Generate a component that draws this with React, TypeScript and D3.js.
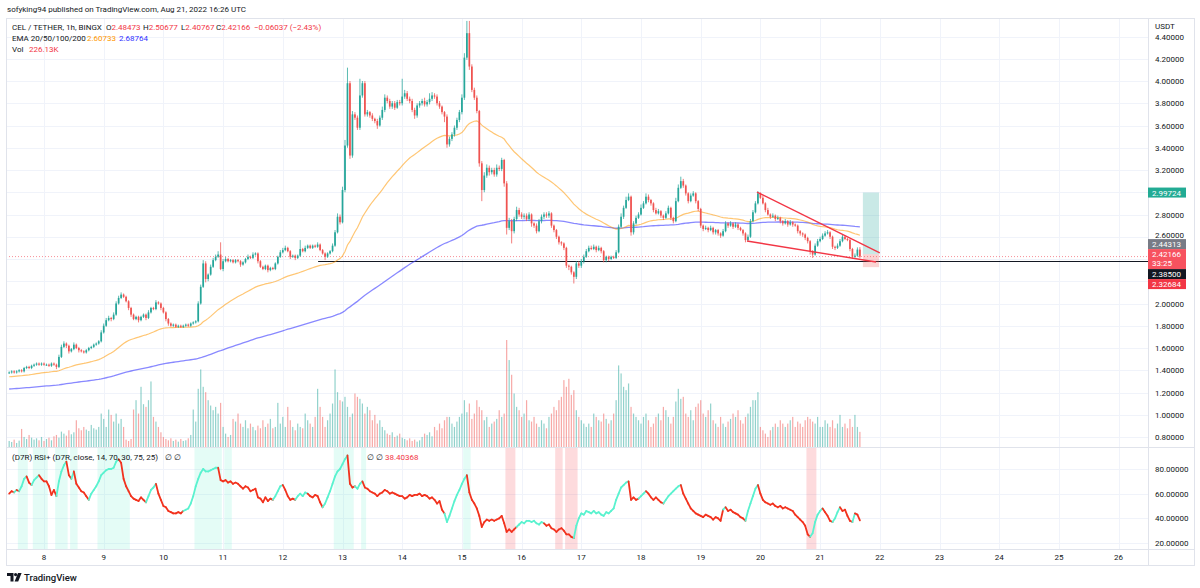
import React from "react";
import * as d3 from "d3";

// CEL/USDT 1h candles on BINGX, Aug 7 10:00 UTC -> Aug 21 16:00 UTC
const firstOpen = 1.38;
const closes = [
  1.38, 1.39, 1.38, 1.39, 1.4, 1.39, 1.42, 1.43, 1.42, 1.44, 1.45, 1.46, 1.45, 1.46, 1.45,
  1.45, 1.44, 1.46, 1.45, 1.43, 1.52, 1.61, 1.64, 1.62, 1.57, 1.59, 1.63, 1.6, 1.58, 1.57, 1.56, 1.58, 1.6, 1.61, 1.63, 1.64, 1.66, 1.74, 1.8,
  1.85, 1.87, 1.86, 1.9, 2.0, 2.05, 2.08, 2.06, 2.02, 1.96, 1.9, 1.86, 1.88, 1.85, 1.88, 1.9, 1.87, 1.92, 1.96, 1.95, 2.01, 2.0, 1.96, 1.92,
  1.86, 1.82, 1.8, 1.81, 1.79, 1.8, 1.79, 1.8, 1.81, 1.8, 1.82, 1.83, 1.84, 2.0, 2.15, 2.36, 2.22, 2.26, 2.33, 2.39, 2.42, 2.44, 2.31, 2.38,
  2.4, 2.38, 2.39, 2.37, 2.39, 2.38, 2.35, 2.37, 2.4, 2.42, 2.41, 2.44, 2.45, 2.38, 2.33, 2.31, 2.34, 2.3, 2.32, 2.31, 2.36, 2.42, 2.46, 2.48,
  2.5, 2.47, 2.42, 2.43, 2.41, 2.43, 2.49, 2.47, 2.5, 2.52, 2.5, 2.52, 2.51, 2.53, 2.48, 2.45, 2.42, 2.45, 2.47, 2.52, 2.64, 2.78, 2.73, 3.02,
  3.42, 3.98, 3.33, 3.7, 3.67, 3.58, 3.87, 3.98, 3.7, 3.72, 3.69, 3.66, 3.64, 3.6, 3.67, 3.74, 3.85, 3.82, 3.77, 3.8, 3.76, 3.81, 3.8, 3.86,
  3.89, 3.84, 3.82, 3.74, 3.69, 3.78, 3.8, 3.82, 3.79, 3.81, 3.84, 3.87, 3.86, 3.8, 3.77, 3.72, 3.68, 3.43, 3.48, 3.52, 3.58, 3.65, 3.72, 3.85,
  4.21, 4.43, 4.13, 3.92, 3.85, 3.73, 3.26, 3.02, 3.15, 3.22, 3.18, 3.2, 3.16, 3.22, 3.21, 3.29, 3.08, 2.68, 2.74, 2.65, 2.76, 2.84, 2.8, 2.78,
  2.79, 2.76, 2.8, 2.72, 2.7, 2.65, 2.74, 2.78, 2.8, 2.79, 2.81, 2.7, 2.66, 2.6, 2.55, 2.54, 2.5, 2.34, 2.33, 2.28, 2.24, 2.36, 2.34, 2.38,
  2.42, 2.47, 2.5, 2.49, 2.51, 2.48, 2.5, 2.47, 2.39, 2.42, 2.4, 2.42, 2.41, 2.46, 2.69, 2.78, 2.86, 2.93, 2.96, 2.64, 2.72, 2.77, 2.8, 2.86,
  2.9, 2.96, 2.93, 2.9, 2.84, 2.81, 2.83, 2.79, 2.77, 2.81, 2.86, 2.77, 2.74, 2.92, 3.04, 3.1, 3.06, 2.99, 2.92, 2.97, 2.99, 2.92, 2.85, 2.7,
  2.67, 2.68, 2.66, 2.68, 2.64, 2.66, 2.63, 2.61, 2.65, 2.72, 2.7, 2.72, 2.69, 2.71, 2.68, 2.66, 2.63, 2.57, 2.6, 2.74, 2.82, 2.9, 2.99, 2.95,
  2.9, 2.84, 2.8, 2.78, 2.79, 2.76, 2.77, 2.74, 2.72, 2.74, 2.71, 2.73, 2.71, 2.7, 2.65, 2.63, 2.62, 2.59, 2.56, 2.47, 2.44, 2.52, 2.56, 2.58,
  2.61, 2.63, 2.64, 2.6, 2.51, 2.5, 2.52, 2.56, 2.6, 2.58, 2.57, 2.49, 2.42, 2.43, 2.48473, 2.42166,
];

// wick lengths beyond the body, in cents
const upperWicks = [
  1, 1, 1, 1, 1, 1, 1, 1, 1, 1, 1, 1, 1, 1, 1,
  1, 1, 1, 1, 1, 2, 2, 2, 1, 1, 1, 2, 1, 1, 1, 1, 1, 1, 1, 1, 1, 1, 2, 2,
  2, 2, 1, 2, 2, 2, 2, 1, 1, 1, 1, 1, 1, 1, 1, 1, 1, 2, 1, 1, 2, 1, 1, 1,
  1, 1, 1, 1, 1, 1, 1, 1, 1, 1, 1, 1, 1, 2, 2, 3, 2, 1, 2, 2, 2, 3, 11, 2,
  2, 1, 1, 1, 1, 1, 1, 1, 1, 2, 1, 2, 1, 1, 1, 1, 1, 1, 1, 1, 1, 1, 2, 2,
  2, 1, 1, 1, 1, 1, 8, 1, 2, 1, 1, 1, 1, 2, 1, 1, 1, 1, 1, 2, 2, 3, 2, 3,
  5, 14, 2, 3, 2, 2, 15, 2, 2, 2, 1, 2, 1, 2, 2, 3, 3, 2, 2, 2, 2, 2, 2, 16,
  3, 2, 2, 2, 2, 2, 2, 2, 3, 2, 5, 3, 2, 2, 2, 1, 1, 2, 2, 2, 2, 2, 2, 3,
  4, 11, 11, 2, 2, 2, 1, 2, 3, 3, 2, 2, 2, 3, 2, 2, 1, 2, 3, 2, 2, 3, 2, 2,
  2, 2, 2, 1, 1, 2, 2, 2, 2, 2, 2, 1, 1, 1, 1, 1, 1, 1, 1, 1, 1, 2, 2, 2,
  2, 2, 2, 2, 2, 1, 2, 1, 1, 1, 1, 1, 1, 2, 2, 3, 2, 3, 3, 1, 2, 2, 2, 3,
  2, 3, 2, 1, 1, 2, 2, 1, 1, 2, 2, 1, 1, 3, 3, 4, 2, 1, 1, 2, 2, 1, 1, 1,
  1, 2, 1, 2, 1, 1, 1, 1, 2, 2, 1, 2, 1, 2, 1, 1, 1, 1, 2, 2, 2, 2, 2, 1,
  2, 1, 2, 1, 2, 1, 2, 1, 1, 2, 1, 2, 1, 1, 1, 1, 1, 1, 1, 1, 1, 2, 2, 2,
  2, 2, 2, 1, 1, 1, 2, 2, 2, 1, 1, 1, 1, 2, 2, 2,
];
const lowerWicks = [
  1, 1, 1, 1, 1, 1, 1, 1, 1, 1, 1, 1, 1, 1, 1,
  1, 1, 1, 1, 2, 1, 1, 1, 2, 2, 1, 1, 1, 2, 1, 1, 1, 1, 1, 1, 1, 1, 1, 1,
  1, 1, 2, 1, 1, 1, 1, 1, 1, 2, 2, 1, 1, 2, 1, 1, 2, 1, 1, 1, 1, 1, 2, 1,
  2, 2, 1, 1, 1, 1, 1, 1, 1, 1, 1, 1, 1, 1, 1, 1, 3, 2, 1, 1, 1, 1, 1, 2,
  1, 1, 1, 1, 1, 1, 2, 1, 1, 1, 1, 1, 1, 2, 1, 1, 1, 2, 1, 1, 1, 1, 1, 1,
  1, 1, 2, 1, 2, 1, 1, 1, 1, 1, 1, 1, 1, 1, 1, 1, 3, 1, 1, 1, 1, 1, 2, 1,
  2, 2, 3, 2, 2, 2, 2, 2, 2, 2, 2, 2, 2, 3, 1, 2, 2, 2, 2, 2, 2, 1, 2, 2,
  2, 2, 2, 2, 3, 2, 2, 2, 2, 2, 2, 2, 2, 2, 2, 2, 5, 3, 2, 2, 2, 2, 2, 2,
  2, 2, 3, 2, 2, 2, 3, 10, 2, 2, 3, 2, 2, 2, 2, 2, 3, 6, 2, 11, 2, 2, 2, 2,
  2, 2, 2, 3, 2, 2, 1, 2, 2, 2, 2, 2, 2, 2, 2, 2, 2, 2, 3, 2, 6, 2, 2, 2,
  2, 1, 1, 1, 1, 2, 1, 2, 2, 2, 2, 1, 1, 1, 1, 1, 2, 1, 1, 3, 2, 1, 1, 1,
  1, 1, 2, 2, 2, 1, 1, 2, 2, 1, 1, 2, 2, 1, 1, 1, 2, 2, 2, 1, 1, 2, 2, 2,
  2, 1, 2, 1, 2, 2, 2, 2, 1, 1, 2, 1, 2, 1, 2, 1, 2, 2, 1, 1, 1, 1, 1, 1,
  1, 2, 1, 2, 1, 2, 1, 2, 2, 1, 2, 1, 2, 1, 2, 2, 2, 2, 2, 3, 3, 1, 1, 1,
  1, 1, 1, 2, 2, 2, 1, 1, 1, 1, 1, 2, 2, 1, 1, 1,
];
const lastBar = { open: 2.48473, high: 2.50677, low: 2.40767, close: 2.42166, change: -0.06037, changePct: -2.43 };
const emaLegend = ["2.60733", "2.68764"];

// volume per hour, thousands of CEL
const volumesK = [
  90, 75, 110, 60, 95, 270, 150, 120, 180, 140, 110, 130, 100, 150, 90,
  120, 140, 100, 160, 180, 140, 230, 200, 170, 250, 190, 220, 400, 280, 250, 300, 260, 240, 330, 280, 260, 300, 500, 420,
  300, 560, 480, 380, 500, 350, 420, 300, 110, 90, 120, 560, 700, 500, 900, 640, 600, 700, 980, 450, 380, 300, 220, 150,
  120, 100, 130, 90, 110, 80, 120, 90, 100, 130, 180, 560, 380, 870, 1160, 900, 820, 700, 620, 550, 600, 500, 660, 300,
  200, 150, 180, 420, 380, 500, 350, 300, 400, 280, 350, 300, 250, 320, 280, 400, 300, 350, 420, 280, 300, 660, 350, 450,
  300, 600, 400, 300, 250, 350, 300, 280, 500, 400, 350, 300, 450, 870, 600, 450, 300, 400, 500, 650, 1160, 820, 700, 680,
  750, 600, 450, 500, 800, 750, 720, 650, 500, 600, 550, 400, 480, 350, 400, 300, 250, 200, 180, 220, 150, 170, 200, 140,
  120, 100, 130, 90, 110, 80, 100, 150, 200, 180, 220, 160, 300, 250, 350, 280, 400, 450, 450, 350, 300, 380, 450, 500,
  700, 520, 650, 420, 500, 700, 600, 550, 400, 450, 300, 350, 380, 420, 550, 450, 500, 1600, 1300, 1080, 800, 600, 550, 450,
  500, 700, 400, 380, 450, 350, 300, 400, 350, 280, 450, 500, 600, 550, 700, 750, 1000, 900, 1020, 780, 850, 550, 450, 400,
  350, 300, 350, 300, 500, 450, 400, 380, 500, 420, 350, 400, 500, 700, 1220, 1100, 900, 850, 950, 600, 500, 450, 400, 350,
  450, 500, 400, 300, 350, 450, 500, 400, 600, 550, 450, 350, 450, 680, 870, 720, 750, 500, 450, 550, 400, 600, 650, 700,
  500, 450, 550, 650, 400, 350, 300, 450, 350, 300, 380, 420, 500, 450, 550, 400, 350, 450, 500, 600, 700, 700, 820, 300,
  250, 200, 150, 250, 300, 350, 300, 400, 350, 300, 350, 400, 450, 300, 380, 350, 300, 400, 450, 420, 380, 350, 450, 300,
  300, 400, 350, 300, 400, 280, 350, 480, 300, 350, 280, 420, 300, 480, 300, 226.13,
];

// (D7R) RSI+ 14 readings per hour
const rsiValues = [
  60, 62, 61, 63, 62, 66, 72, 74, 69, 67, 71, 73, 75, 72, 70,
  70, 66, 59, 63, 58, 70, 78, 83, 86, 75, 72, 78, 68, 65, 62, 61, 58, 55, 60, 63, 66, 70, 75, 77,
  79, 80, 80, 81, 86, 88, 85, 72, 66, 62, 58, 56, 55, 54, 57, 55, 53, 58, 63, 65, 68, 60, 55, 50,
  49, 46, 45, 44, 44, 45, 44, 46, 47, 48, 52, 58, 66, 72, 77, 80, 78, 78, 79, 80, 81, 81, 71, 70,
  71, 69, 70, 68, 69, 68, 66, 64, 66, 65, 62, 63, 64, 57, 56, 53, 57, 54, 56, 55, 58, 62, 66, 67,
  63, 58, 55, 56, 55, 58, 60, 58, 61, 60, 58, 57, 59, 58, 53, 49, 52, 57, 62, 68, 74, 78, 80, 84,
  88, 91, 68, 65, 66, 64, 68, 70, 65, 64, 62, 61, 60, 58, 60, 61, 63, 62, 60, 61, 60, 59, 58, 58,
  56, 57, 59, 58, 59, 59, 60, 58, 59, 58, 56, 57, 55, 52, 54, 47, 44, 37, 42, 48, 54, 59, 63, 68,
  72, 75, 61, 55, 52, 48, 42, 33, 37, 39, 38, 39, 38, 39, 40, 42, 36, 29, 31, 29, 31, 33, 35, 37,
  36, 38, 38, 37, 38, 36, 35, 37, 36, 34, 35, 32, 31, 29, 31, 32, 30, 27, 27, 25, 24, 34, 40, 44,
  43, 46, 45, 44, 46, 44, 45, 43, 42, 45, 44, 46, 48, 55, 60, 65, 67, 69, 70, 55, 57, 55, 56, 58,
  60, 62, 60, 57, 55, 57, 55, 53, 52, 55, 58, 60, 62, 64, 66, 67, 60, 56, 52, 48, 46, 44, 43, 42,
  41, 43, 42, 41, 39, 41, 40, 38, 47, 49, 46, 47, 45, 44, 43, 41, 40, 38, 46, 52, 58, 64, 67, 60,
  55, 53, 52, 51, 52, 50, 49, 50, 48, 49, 48, 47, 46, 43, 41, 39, 37, 34, 27, 25, 28, 37, 43, 46,
  48, 45, 42, 38, 37, 40, 45, 49, 46, 47, 42, 38, 37, 44, 43, 38.40368,
];
// bar-index runs where the RSI line is painted in its rising colour
const rsiRisingRuns = [
  [2, 3], [4, 7], [9, 12], [19, 23], [25, 26], [32, 44], [55, 59], [70, 84], [106, 110], [115, 120],
  [126, 136], [139, 142], [175, 184], [204, 215], [227, 249], [253, 256], [263, 270], [287, 288],
  [296, 301], [322, 327], [331, 334], [339, 340],
];
const overboughtBands = [
  [4, 7], [10, 11], [12, 15], [19, 23], [25, 27], [36, 48], [75, 85], [87, 89], [131, 138], [142, 143], [183, 185],
];
const oversoldBands = [[200, 203], [220, 222], [224, 228], [321, 324]];

const priceTicks = [0.8, 1.0, 1.2, 1.4, 1.6, 1.8, 2.0, 2.2, 2.4, 2.6, 2.8, 3.0, 3.2, 3.4, 3.6, 3.8, 4.0, 4.2, 4.4];
const rsiTicks = [20, 40, 60, 80];

// drawings: falling wedge, support level and a long position
const wedgeLines = [
  { from: [300.6, 3.002], to: [350.0, 2.454] },
  { from: [296.6, 2.562], to: [348.5, 2.373] },
];
const supportLine = { price: 2.385, fromBar: 124.2 };
const longPosition = { entry: 2.44313, target: 2.99724, stop: 2.32684, fromBar: 343.2, toBar: 349.7 };

const axisLabels = [
  { value: 2.99724, text: "2.99724", fill: "#22ab94" },
  { value: 2.44313, text: "2.44313", fill: "#787b86" },
  { value: 2.42166, text: "2.42166", sub: "33:25", fill: "#f7525f", anchor: true },
  { value: 2.385, text: "2.38500", fill: "#131722" },
  { value: 2.32684, text: "2.32684", fill: "#f23645" },
];

const UP = "#26a69a";
const DOWN = "#ef5350";
const RED_TEXT = "#f23645";
const FONT = "Roboto, 'Noto Sans', sans-serif";

const LEFT = 6;
const AXIS_X = 1148;
const RIGHT = 1194;
const MAIN_TOP = 18;
const MAIN_BOTTOM = 447;
const RSI_BOTTOM = 549;
const TIME_BOTTOM = 565;
const HOUR = 3600e3;
const t0 = Date.UTC(2022, 7, 7, 10);

function ema(values: number[], period: number, seed: number) {
  const k = 2 / (period + 1);
  let prev = seed;
  return values.map((v) => (prev = prev + k * (v - prev)));
}

export default function App() {
  const xTime = d3
    .scaleUtc()
    .domain([new Date(Date.UTC(2022, 7, 8)), new Date(Date.UTC(2022, 7, 26))])
    .range([44, 44 + 18 * 59.7]);
  const x = (i: number) => xTime(new Date(t0 + i * HOUR));
  const y = d3.scaleLinear().domain([0.8, 4.4]).range([437, 36.5]);
  const yVol = d3.scaleLinear().domain([0, d3.max(volumesK) as number]).range([MAIN_BOTTOM, 340]);
  const yRsi = d3.scaleLinear().domain([20, 80]).range([543, 469]);
  const step = x(1) - x(0);

  const candles = closes.map((c, i) => {
    const o = i === 0 ? firstOpen : closes[i - 1];
    const last = i === closes.length - 1;
    return {
      o,
      c,
      h: last ? lastBar.high : Math.max(o, c) + (upperWicks[i] ?? 1) / 100,
      l: last ? lastBar.low : Math.min(o, c) - (lowerWicks[i] ?? 1) / 100,
    };
  });

  const ema50 = ema(closes, 50, 1.34);
  const ema200 = ema(closes, 200, 1.23);
  const line = d3
    .line<number>()
    .x((_, i) => x(i))
    .y((d) => y(d));

  const isRising = (i: number) => rsiRisingRuns.some(([a, b]) => i >= a && i < b);

  // stack the price-axis badges around the live price badge
  const boxes = axisLabels.map((l) => {
    const cy = y(l.value);
    return l.anchor ? { ...l, top: cy - 7.5, bottom: cy + 12.5 } : { ...l, top: cy - 5, bottom: cy + 5 };
  });
  const anchor = boxes.find((b) => b.anchor)!;
  let edge = anchor.top;
  boxes
    .filter((b) => b.value > anchor.value)
    .sort((a, b) => a.value - b.value)
    .forEach((b) => {
      if (b.bottom > edge) {
        b.top -= b.bottom - edge;
        b.bottom = edge;
      }
      edge = b.top;
    });
  edge = anchor.bottom;
  boxes
    .filter((b) => b.value < anchor.value)
    .sort((a, b) => b.value - a.value)
    .forEach((b) => {
      if (b.top < edge) {
        b.bottom += edge - b.top;
        b.top = edge;
      }
      edge = b.bottom;
    });

  // tick labels hidden under a badge are dropped, ones just touching a badge are nudged clear
  const tickLabels = priceTicks
    .map((t) => ({ t, ty: y(t) }))
    .filter(({ ty }) => !boxes.some((b) => ty > b.top && ty < b.bottom))
    .map(({ t, ty }) => {
      let baseline = ty + 3;
      boxes.forEach((b) => {
        if (baseline > b.top - 1 && ty < b.top) baseline = b.top - 1;
      });
      return { t, baseline };
    });

  const days = d3.utcDay.range(new Date(Date.UTC(2022, 7, 8)), new Date(Date.UTC(2022, 7, 27)));

  return (
    <svg
      width={1200}
      height={588}
      style={{ position: "absolute", left: 0, top: 0, background: "#fff", fontFamily: FONT }}
    >
      <defs>
        <clipPath id="main">
          <rect x={LEFT} y={MAIN_TOP} width={AXIS_X - LEFT} height={MAIN_BOTTOM - MAIN_TOP} />
        </clipPath>
        <clipPath id="rsi">
          <rect x={LEFT} y={MAIN_BOTTOM} width={AXIS_X - LEFT} height={RSI_BOTTOM - MAIN_BOTTOM} />
        </clipPath>
      </defs>

      <text x={7} y={12} fontSize={8} fill="#131722">
        sofyking94 published on TradingView.com, Aug 21, 2022 16:26 UTC
      </text>

      {/* grid */}
      <g stroke="#f0f3fa" strokeWidth={1}>
        {priceTicks.map((t) => (
          <line key={t} x1={LEFT} x2={AXIS_X} y1={Math.round(y(t)) + 0.5} y2={Math.round(y(t)) + 0.5} />
        ))}
        {rsiTicks.map((t) => (
          <line key={t} x1={LEFT} x2={AXIS_X} y1={Math.round(yRsi(t)) + 0.5} y2={Math.round(yRsi(t)) + 0.5} />
        ))}
        {days.map((d) => (
          <line
            key={+d}
            x1={Math.round(xTime(d)) + 0.5}
            x2={Math.round(xTime(d)) + 0.5}
            y1={MAIN_TOP}
            y2={RSI_BOTTOM}
          />
        ))}
      </g>

      {/* price pane */}
      <g clipPath="url(#main)">
        {volumesK.map((v, i) => (
          <rect
            key={i}
            x={x(i) - 0.6}
            width={1.2}
            y={yVol(v)}
            height={MAIN_BOTTOM - yVol(v)}
            fill={candles[i].c >= candles[i].o ? UP : DOWN}
            opacity={0.5}
          />
        ))}

        <line
          x1={LEFT}
          x2={AXIS_X}
          y1={y(lastBar.close)}
          y2={y(lastBar.close)}
          stroke={RED_TEXT}
          strokeOpacity={0.55}
          strokeDasharray="1 2"
        />
        <line
          x1={x(supportLine.fromBar)}
          x2={AXIS_X}
          y1={Math.round(y(supportLine.price)) + 0.5}
          y2={Math.round(y(supportLine.price)) + 0.5}
          stroke="#131722"
          strokeWidth={1}
        />

        <path d={line(ema200) ?? ""} fill="none" stroke="#3b3bff" strokeOpacity={0.6} strokeWidth={1.3} />
        <path d={line(ema50) ?? ""} fill="none" stroke="#ff9800" strokeOpacity={0.55} strokeWidth={1.2} />

        {candles.map((c, i) => {
          const cx = x(i);
          const color = c.c >= c.o ? UP : DOWN;
          const top = y(Math.max(c.o, c.c));
          const bot = y(Math.min(c.o, c.c));
          return (
            <g key={i} fill={color}>
              <rect x={cx - 0.5} width={1} y={y(c.h)} height={y(c.l) - y(c.h)} opacity={0.75} />
              <rect x={cx - 0.85} width={1.7} y={top} height={Math.max(1, bot - top)} />
            </g>
          );
        })}

        <rect
          x={x(longPosition.fromBar)}
          width={x(longPosition.toBar) - x(longPosition.fromBar)}
          y={y(longPosition.target)}
          height={y(longPosition.entry) - y(longPosition.target)}
          fill={UP}
          opacity={0.25}
        />
        <rect
          x={x(longPosition.fromBar)}
          width={x(longPosition.toBar) - x(longPosition.fromBar)}
          y={y(longPosition.entry)}
          height={y(longPosition.stop) - y(longPosition.entry)}
          fill={DOWN}
          opacity={0.25}
        />

        {wedgeLines.map((w, k) => (
          <line
            key={k}
            x1={x(w.from[0])}
            y1={y(w.from[1])}
            x2={x(w.to[0])}
            y2={y(w.to[1])}
            stroke="#f23645"
            strokeWidth={1.4}
          />
        ))}
      </g>

      {/* legend */}
      <g fontSize={8} fill="#131722">
        <text x={12} y={30}>CEL / TETHER, 1h, BINGX</text>
        <text x={106} y={30}>O<tspan fill={RED_TEXT}>{lastBar.open.toFixed(5)}</tspan></text>
        <text x={143} y={30}>H<tspan fill={RED_TEXT}>{lastBar.high.toFixed(5)}</tspan></text>
        <text x={181} y={30}>L<tspan fill={RED_TEXT}>{lastBar.low.toFixed(5)}</tspan></text>
        <text x={216} y={30}>C<tspan fill={RED_TEXT}>{lastBar.close.toFixed(5)}</tspan></text>
        <text x={254} y={30} fill={RED_TEXT}>
          {`\u2212${Math.abs(lastBar.change).toFixed(5)} (\u2212${Math.abs(lastBar.changePct).toFixed(2)}%)`}
        </text>
        <text x={12} y={41}>EMA 20/50/100/200</text>
        <text x={87} y={41} fill="#ff9800">{emaLegend[0]}</text>
        <text x={119} y={41} fill="#3030ff">{emaLegend[1]}</text>
        <text x={12} y={52}>Vol</text>
        <text x={29} y={52} fill={RED_TEXT}>226.13K</text>
      </g>

      {/* RSI pane */}
      <g clipPath="url(#rsi)">
        {overboughtBands.map(([a, b], k) => (
          <rect
            key={"ob" + k}
            x={x(a) - step / 2}
            width={x(b) - x(a) + step}
            y={MAIN_BOTTOM}
            height={RSI_BOTTOM - MAIN_BOTTOM}
            fill="#5ef0cc"
            opacity={0.17}
          />
        ))}
        {oversoldBands.map(([a, b], k) => (
          <rect
            key={"os" + k}
            x={x(a) - step / 2}
            width={x(b) - x(a) + step}
            y={MAIN_BOTTOM}
            height={RSI_BOTTOM - MAIN_BOTTOM}
            fill="#f23645"
            opacity={0.18}
          />
        ))}
        {rsiValues.slice(1).map((v, k) => (
          <line
            key={k}
            x1={x(k)}
            y1={yRsi(rsiValues[k])}
            x2={x(k + 1)}
            y2={yRsi(v)}
            stroke={isRising(k) ? "#5af2cf" : "#f2321e"}
            strokeWidth={1.8}
            strokeLinecap="round"
          />
        ))}
      </g>
      <g fontSize={8} fill="#131722">
        <text x={12} y={460}>(D7R) RSI+ (D7R, close, 14, 70, 30, 75, 25)</text>
        <text x={165} y={460}>∅  ∅</text>
        <text x={367} y={460}>∅  ∅</text>
        <text x={385} y={460} fill={RED_TEXT}>
          {rsiValues[rsiValues.length - 1].toFixed(5)}
        </text>
      </g>

      {/* frame */}
      <g stroke="#e0e3eb" fill="none">
        <rect x={LEFT + 0.5} y={MAIN_TOP + 0.5} width={RIGHT - LEFT} height={TIME_BOTTOM - MAIN_TOP} />
        <line x1={AXIS_X + 0.5} x2={AXIS_X + 0.5} y1={MAIN_TOP} y2={TIME_BOTTOM} />
        <line x1={LEFT} x2={RIGHT} y1={MAIN_BOTTOM + 0.5} y2={MAIN_BOTTOM + 0.5} />
        <line x1={LEFT} x2={RIGHT} y1={RSI_BOTTOM + 0.5} y2={RSI_BOTTOM + 0.5} />
      </g>

      {/* price axis */}
      <g fontSize={8} fill="#131722">
        <text x={1155} y={29}>USDT</text>
        {tickLabels.map(({ t, baseline }) => (
          <text key={t} x={1155} y={baseline}>
            {t.toFixed(5)}
          </text>
        ))}
        {rsiTicks.map((t) => (
          <text key={t} x={1155} y={yRsi(t) + 3}>
            {t.toFixed(5)}
          </text>
        ))}
      </g>
      {boxes.map((b) => (
        <g key={b.text}>
          <rect x={AXIS_X} y={b.top} width={38} height={b.bottom - b.top} fill={b.fill} />
          <text x={1152} y={b.top + 8} fontSize={8} fill="#fff">
            {b.text}
          </text>
          {b.sub && (
            <text x={1152} y={b.top + 17.3} fontSize={8} fill="#fff">
              {b.sub}
            </text>
          )}
        </g>
      ))}

      {/* time axis */}
      <g fontSize={8} fill="#131722" textAnchor="middle">
        {days.map((d) => (
          <text key={+d} x={xTime(d)} y={560}>
            {d.getUTCDate()}
          </text>
        ))}
      </g>

      {/* footer logo */}
      <g fill="#131722">
        <path d="M7 573 h6.5 v8.5 h-3 v-5.6 h-3.5 z" />
        <circle cx={15.6} cy={574.6} r={1.6} />
        <path d="M18 573 h3.6 l-3.4 8.5 h-3.6 z" />
        <text x={24} y={581} fontSize={9.5} fontWeight={500}>
          TradingView
        </text>
      </g>
    </svg>
  );
}
